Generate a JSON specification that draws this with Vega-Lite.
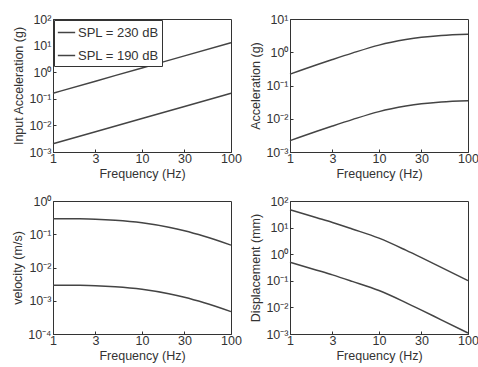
{
  "$schema": "https://vega.github.io/schema/vega-lite/v6.json",
  "background": "white",
  "padding": {"left": 11, "top": 12, "right": 0, "bottom": 0},
  "spacing": {"row": 13, "column": 7},
  "columns": 2,
  "data": {"values": [
    {"panel": "A", "spl": "SPL = 230 dB", "f": 1, "v": 0.162},
    {"panel": "A", "spl": "SPL = 230 dB", "f": 3, "v": 0.46},
    {"panel": "A", "spl": "SPL = 230 dB", "f": 10, "v": 1.45},
    {"panel": "A", "spl": "SPL = 230 dB", "f": 30, "v": 4.1},
    {"panel": "A", "spl": "SPL = 230 dB", "f": 100, "v": 12.9},
    {"panel": "A", "spl": "SPL = 190 dB", "f": 1, "v": 0.00204},
    {"panel": "A", "spl": "SPL = 190 dB", "f": 3, "v": 0.0058},
    {"panel": "A", "spl": "SPL = 190 dB", "f": 10, "v": 0.0182},
    {"panel": "A", "spl": "SPL = 190 dB", "f": 30, "v": 0.0516},
    {"panel": "A", "spl": "SPL = 190 dB", "f": 100, "v": 0.162},

    {"panel": "B", "spl": "SPL = 230 dB", "f": 1, "v": 0.219},
    {"panel": "B", "spl": "SPL = 230 dB", "f": 2, "v": 0.42},
    {"panel": "B", "spl": "SPL = 230 dB", "f": 3, "v": 0.604},
    {"panel": "B", "spl": "SPL = 230 dB", "f": 5, "v": 0.942},
    {"panel": "B", "spl": "SPL = 230 dB", "f": 10, "v": 1.64},
    {"panel": "B", "spl": "SPL = 230 dB", "f": 20, "v": 2.40},
    {"panel": "B", "spl": "SPL = 230 dB", "f": 30, "v": 2.82},
    {"panel": "B", "spl": "SPL = 230 dB", "f": 50, "v": 3.21},
    {"panel": "B", "spl": "SPL = 230 dB", "f": 100, "v": 3.49},
    {"panel": "B", "spl": "SPL = 190 dB", "f": 1, "v": 0.00219},
    {"panel": "B", "spl": "SPL = 190 dB", "f": 2, "v": 0.0042},
    {"panel": "B", "spl": "SPL = 190 dB", "f": 3, "v": 0.00604},
    {"panel": "B", "spl": "SPL = 190 dB", "f": 5, "v": 0.00942},
    {"panel": "B", "spl": "SPL = 190 dB", "f": 10, "v": 0.0164},
    {"panel": "B", "spl": "SPL = 190 dB", "f": 20, "v": 0.024},
    {"panel": "B", "spl": "SPL = 190 dB", "f": 30, "v": 0.0282},
    {"panel": "B", "spl": "SPL = 190 dB", "f": 50, "v": 0.0321},
    {"panel": "B", "spl": "SPL = 190 dB", "f": 100, "v": 0.0349},

    {"panel": "C", "spl": "SPL = 230 dB", "f": 1, "v": 0.295},
    {"panel": "C", "spl": "SPL = 230 dB", "f": 2, "v": 0.291},
    {"panel": "C", "spl": "SPL = 230 dB", "f": 3, "v": 0.284},
    {"panel": "C", "spl": "SPL = 230 dB", "f": 5, "v": 0.264},
    {"panel": "C", "spl": "SPL = 230 dB", "f": 10, "v": 0.221},
    {"panel": "C", "spl": "SPL = 230 dB", "f": 20, "v": 0.162},
    {"panel": "C", "spl": "SPL = 230 dB", "f": 30, "v": 0.127},
    {"panel": "C", "spl": "SPL = 230 dB", "f": 50, "v": 0.0867},
    {"panel": "C", "spl": "SPL = 230 dB", "f": 100, "v": 0.0471},
    {"panel": "C", "spl": "SPL = 190 dB", "f": 1, "v": 0.00295},
    {"panel": "C", "spl": "SPL = 190 dB", "f": 2, "v": 0.00291},
    {"panel": "C", "spl": "SPL = 190 dB", "f": 3, "v": 0.00284},
    {"panel": "C", "spl": "SPL = 190 dB", "f": 5, "v": 0.00264},
    {"panel": "C", "spl": "SPL = 190 dB", "f": 10, "v": 0.00221},
    {"panel": "C", "spl": "SPL = 190 dB", "f": 20, "v": 0.00162},
    {"panel": "C", "spl": "SPL = 190 dB", "f": 30, "v": 0.00127},
    {"panel": "C", "spl": "SPL = 190 dB", "f": 50, "v": 0.000867},
    {"panel": "C", "spl": "SPL = 190 dB", "f": 100, "v": 0.000471},

    {"panel": "D", "spl": "SPL = 230 dB", "f": 1, "v": 46.8},
    {"panel": "D", "spl": "SPL = 230 dB", "f": 2, "v": 23.4},
    {"panel": "D", "spl": "SPL = 230 dB", "f": 3, "v": 15.6},
    {"panel": "D", "spl": "SPL = 230 dB", "f": 5, "v": 8.89},
    {"panel": "D", "spl": "SPL = 230 dB", "f": 10, "v": 4.01},
    {"panel": "D", "spl": "SPL = 230 dB", "f": 20, "v": 1.42},
    {"panel": "D", "spl": "SPL = 230 dB", "f": 30, "v": 0.74},
    {"panel": "D", "spl": "SPL = 230 dB", "f": 50, "v": 0.318},
    {"panel": "D", "spl": "SPL = 230 dB", "f": 100, "v": 0.101},
    {"panel": "D", "spl": "SPL = 190 dB", "f": 1, "v": 0.501},
    {"panel": "D", "spl": "SPL = 190 dB", "f": 2, "v": 0.251},
    {"panel": "D", "spl": "SPL = 190 dB", "f": 3, "v": 0.167},
    {"panel": "D", "spl": "SPL = 190 dB", "f": 5, "v": 0.0953},
    {"panel": "D", "spl": "SPL = 190 dB", "f": 10, "v": 0.043},
    {"panel": "D", "spl": "SPL = 190 dB", "f": 20, "v": 0.0152},
    {"panel": "D", "spl": "SPL = 190 dB", "f": 30, "v": 0.00793},
    {"panel": "D", "spl": "SPL = 190 dB", "f": 50, "v": 0.00341},
    {"panel": "D", "spl": "SPL = 190 dB", "f": 100, "v": 0.00109}
  ]},
  "resolve": {"scale": {"color": "independent", "y": "independent"}},
  "concat": [
    {
      "width": 178, "height": 133,
      "transform": [{"filter": "datum.panel == 'A'"}],
      "mark": {"type": "line", "strokeWidth": 1.5, "interpolate": "monotone"},
      "encoding": {
        "x": {"field": "f", "type": "quantitative", "scale": {"type": "log", "domain": [1, 100], "nice": false}, "axis": {"values": [1, 3, 10, 30, 100], "format": "d", "title": "Frequency (Hz)"}},
        "y": {"field": "v", "type": "quantitative", "scale": {"type": "log", "domain": [0.001, 100], "nice": false}, "axis": {"values": [0.001, 0.01, 0.1, 1, 10, 100], "labelPadding": 5, "labelExpr": "['10⁻⁴','10⁻³','10⁻²','10⁻¹','10⁰','10¹','10²'][round(log(datum.value)/LN10)+4]", "title": "Input Acceleration (g)"}},
        "color": {"field": "spl", "type": "nominal", "scale": {"domain": ["SPL = 230 dB", "SPL = 190 dB"], "range": ["#444444", "#444444"]},
          "legend": {"title": null, "orient": "top-left", "offset": 1, "strokeColor": "#333333", "fillColor": "white", "padding": 3, "symbolType": "stroke", "symbolSize": 300, "symbolStrokeWidth": 1.5, "labelFontSize": 13, "labelColor": "#333333", "labelOffset": 2, "rowPadding": 6}}
      }
    },
    {
      "width": 178, "height": 133,
      "transform": [{"filter": "datum.panel == 'B'"}],
      "mark": {"type": "line", "strokeWidth": 1.5, "color": "#444444", "interpolate": "monotone"},
      "encoding": {
        "x": {"field": "f", "type": "quantitative", "scale": {"type": "log", "domain": [1, 100], "nice": false}, "axis": {"values": [1, 3, 10, 30, 100], "format": "d", "title": "Frequency (Hz)"}},
        "y": {"field": "v", "type": "quantitative", "scale": {"type": "log", "domain": [0.001, 10], "nice": false}, "axis": {"values": [0.001, 0.01, 0.1, 1, 10], "labelPadding": 5, "labelExpr": "['10⁻⁴','10⁻³','10⁻²','10⁻¹','10⁰','10¹','10²'][round(log(datum.value)/LN10)+4]", "title": "Acceleration (g)"}},
        "detail": {"field": "spl"}
      }
    },
    {
      "width": 178, "height": 133,
      "transform": [{"filter": "datum.panel == 'C'"}],
      "mark": {"type": "line", "strokeWidth": 1.5, "color": "#444444", "interpolate": "monotone"},
      "encoding": {
        "x": {"field": "f", "type": "quantitative", "scale": {"type": "log", "domain": [1, 100], "nice": false}, "axis": {"values": [1, 3, 10, 30, 100], "format": "d", "title": "Frequency (Hz)"}},
        "y": {"field": "v", "type": "quantitative", "scale": {"type": "log", "domain": [0.0001, 1], "nice": false}, "axis": {"values": [0.0001, 0.001, 0.01, 0.1, 1], "labelPadding": 5, "labelExpr": "['10⁻⁴','10⁻³','10⁻²','10⁻¹','10⁰','10¹','10²'][round(log(datum.value)/LN10)+4]", "title": "velocity (m/s)"}},
        "detail": {"field": "spl"}
      }
    },
    {
      "width": 178, "height": 133,
      "transform": [{"filter": "datum.panel == 'D'"}],
      "mark": {"type": "line", "strokeWidth": 1.5, "color": "#444444", "interpolate": "monotone"},
      "encoding": {
        "x": {"field": "f", "type": "quantitative", "scale": {"type": "log", "domain": [1, 100], "nice": false}, "axis": {"values": [1, 3, 10, 30, 100], "format": "d", "title": "Frequency (Hz)"}},
        "y": {"field": "v", "type": "quantitative", "scale": {"type": "log", "domain": [0.001, 100], "nice": false}, "axis": {"values": [0.001, 0.01, 0.1, 1, 10, 100], "labelPadding": 5, "labelExpr": "['10⁻⁴','10⁻³','10⁻²','10⁻¹','10⁰','10¹','10²'][round(log(datum.value)/LN10)+4]", "title": "Displacement (mm)"}},
        "detail": {"field": "spl"}
      }
    }
  ],
  "config": {
    "font": "Liberation Sans",
    "view": {"stroke": "#333333", "strokeWidth": 1},
    "axis": {
      "grid": false,
      "labelFontSize": 12.5,
      "titleFontSize": 12.5,
      "titleFontWeight": "normal",
      "labelColor": "#333333",
      "titleColor": "#333333",
      "tickColor": "#333333",
      "domainColor": "#333333",
      "tickSize": -3,
      "labelPadding": 3,
      "titlePadding": 3,
      "labelOverlap": false,
      "labelFlush": false,
      "labelBound": false
    },
    "legend": {"labelFont": "Liberation Sans"}
  }
}
